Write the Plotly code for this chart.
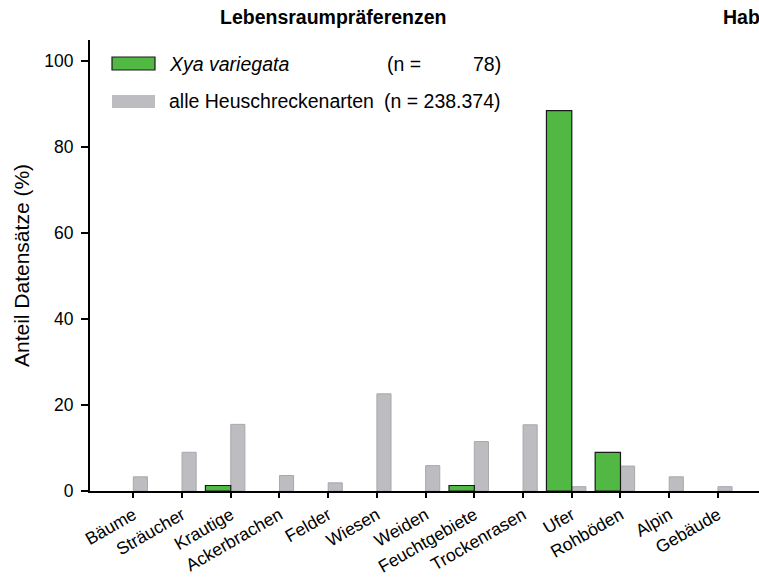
import plotly.graph_objects as go

categories = ["Bäume", "Sträucher", "Krautige", "Ackerbrachen", "Felder", "Wiesen",
              "Weiden", "Feuchtgebiete", "Trockenrasen", "Ufer", "Rohböden", "Alpin", "Gebäude"]
xya_values = [0, 0, 1.28, 0, 0, 0, 0, 1.28, 0, 88.46, 8.97, 0, 0]
alle_values = [3.3, 9.0, 15.5, 3.6, 1.9, 22.6, 5.9, 11.5, 15.4, 1.0, 5.8, 3.3, 1.0]
y_ticks = [0, 20, 40, 60, 80, 100]

W, H = 759, 578
L, R, T, B = 90, 0, 40, 87
PW, PH = W - L - R, H - T - B

def px(x):
    return (x - L) / PW

def py(y):
    return (H - B - y) / PH

FONT = "Liberation Sans, Arial, sans-serif"
GREEN = "#50b843"
GREY = "#bdbdc1"

fig = go.Figure()
fig.add_trace(go.Bar(x=categories, y=alle_values, width=0.29, offset=0.0,
                     marker=dict(color=GREY,
                                 line=dict(color="#a8a8ac",
                                           width=[1 if v > 0 else 0 for v in alle_values])),
                     showlegend=False))
fig.add_trace(go.Bar(x=categories, y=xya_values, width=0.52, offset=-0.52,
                     marker=dict(color=GREEN,
                                 line=dict(color="#1a1a1a",
                                           width=[1.2 if v > 0 else 0 for v in xya_values])),
                     showlegend=False))

fig.update_layout(
    width=W, height=H,
    margin=dict(l=L, r=R, t=T, b=B, pad=0),
    paper_bgcolor="white", plot_bgcolor="white",
    barmode="overlay",
    font=dict(family=FONT, size=17.5, color="black"),
    xaxis=dict(range=[-0.889, 12.843], showline=True, linecolor="black", linewidth=2,
               ticks="outside", ticklen=5, tickwidth=1.5, tickcolor="black",
               tickangle=-30, showgrid=False, zeroline=False,
               tickfont=dict(size=17.5)),
    yaxis=dict(range=[0, 104.9], showline=True, linecolor="black", linewidth=2,
               ticks="outside", ticklen=7, tickwidth=1.5, tickcolor="black",
               tickvals=y_ticks, showgrid=False, zeroline=False,
               tickfont=dict(size=17.5), ticklabelstandoff=4,
               title=dict(text="Anteil Datensätze (%)", font=dict(size=21), standoff=9)),
)

# legend (manual)
fig.add_shape(type="rect", xref="paper", yref="paper", x0=px(112), x1=px(155), y0=py(70), y1=py(57),
              fillcolor=GREEN, line=dict(color="#1a1a1a", width=1.2))
fig.add_shape(type="rect", xref="paper", yref="paper", x0=px(112), x1=px(155), y0=py(108), y1=py(95),
              fillcolor=GREY, line=dict(width=0))

ann = []
ann.append(dict(text="<i>Xya variegata</i>", x=px(167), y=py(64), xanchor="left", yanchor="middle"))
ann.append(dict(text="(n =", x=px(385), y=py(64), xanchor="left", yanchor="middle"))
ann.append(dict(text="78)", x=px(503), y=py(64), xanchor="right", yanchor="middle"))
ann.append(dict(text="alle Heuschreckenarten", x=px(167), y=py(101), xanchor="left", yanchor="middle"))
ann.append(dict(text="(n = 238.374)", x=px(503), y=py(101), xanchor="right", yanchor="middle"))
for a in ann:
    fig.add_annotation(xref="paper", yref="paper", showarrow=False,
                       font=dict(family=FONT, size=19.5, color="black"), **a)

fig.add_annotation(text="<b>Lebensraumpräferenzen</b>", xref="paper", yref="paper",
                   x=px(333), y=py(17), xanchor="center", yanchor="middle", showarrow=False,
                   font=dict(family=FONT, size=19.5, color="black"))
fig.add_annotation(text="<b>Hab</b>", xref="paper", yref="paper",
                   x=px(721), y=py(17), xanchor="left", yanchor="middle", showarrow=False,
                   font=dict(family=FONT, size=19.5, color="black"))

fig.write_html("out.html", config={"displayModeBar": False},
               post_script="document.body.style.margin='0';")
